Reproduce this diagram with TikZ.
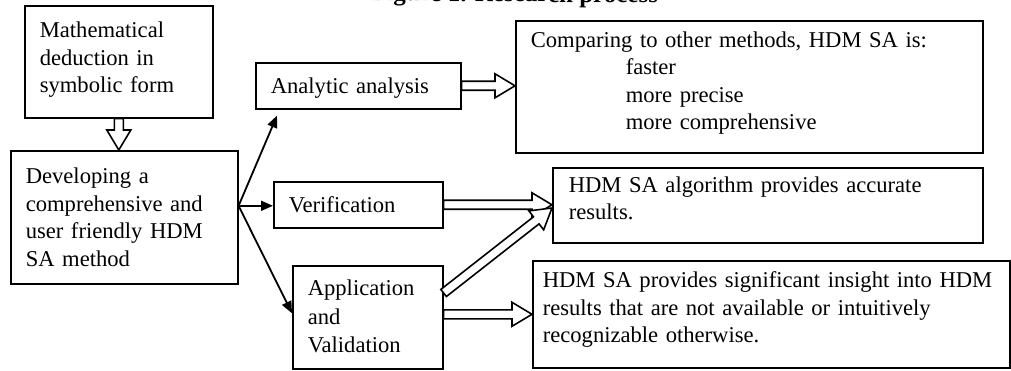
\documentclass[tikz,border=0pt]{standalone}
\usepackage{fontspec}
\setmainfont{Liberation Serif}
\usetikzlibrary{arrows.meta,calc}

\tikzset{
  box/.style={draw, line width=1.6pt, anchor=north west, align=left,
    inner ysep=0pt, inner xsep=15pt, text height=16pt,
    font=\fontsize{22.6}{27.5}\selectfont},
  link/.style={line width=1.8pt, -{Triangle[length=12pt,width=10pt]}},
  hollow/.style={draw, line width=1.6pt, fill=white, line join=miter},
}

% outlined block arrow from #1 to #2 (shaft, open head)
\newcommand\hollowarrow[2]{%
  \coordinate (ha) at #1;
  \coordinate (hb) at #2;
  \coordinate (hh) at ($(hb)!20pt!(ha)$);
  \draw[hollow] ($(ha)!4.5pt!90:(hb)$) -- ($(hh)!4.5pt!90:(hb)$)
    -- ($(hh)!12pt!90:(hb)$) -- (hb) -- ($(hh)!12pt!-90:(hb)$)
    -- ($(hh)!4.5pt!-90:(hb)$) -- ($(ha)!4.5pt!-90:(hb)$) -- cycle;%
}

\begin{document}
\begin{tikzpicture}[x=1pt, y=-1pt]
  \useasboundingbox (0,0) rectangle (1011,371);
  \clip (0,0) rectangle (1011,371);

  % heading, cut at the top edge
  \node[anchor=base west, inner sep=0pt, rotate=-0.5,
        font=\bfseries\fontsize{25}{30}\selectfont] (title) at (371,0.5)
        {Figure 1. Research process};

  % boxes
  \node[box, minimum width=188pt, minimum height=112pt, text width=158pt,
        text depth=64pt] (math) at (24,5)
        {Mathematical\\deduction in\\symbolic form};
  \node[box, minimum width=227pt, minimum height=133pt, text width=197pt,
        text depth=83pt] (dev) at (10,150)
        {Developing a\\comprehensive and\\user friendly HDM\\SA method};
  \node[box, minimum width=205pt, minimum height=46pt, text width=175pt,
        text depth=0pt] (ana) at (255,62) {Analytic analysis};
  \node[box, minimum width=467pt, minimum height=132pt, text width=437pt,
        text depth=94.6pt] (cmp) at (515,20)
        {Comparing to other methods, HDM SA is:\\
         \hspace*{95pt}faster\\
         \hspace*{95pt}more precise\\
         \hspace*{95pt}more comprehensive};
  \node[box, minimum width=169pt, minimum height=46pt, text width=139pt,
        text depth=0pt] (ver) at (273,181) {Verification};
  \node[box, minimum width=150pt, minimum height=103pt, text width=120pt,
        text depth=59pt, font=\fontsize{22.6}{28.5}\selectfont] (app) at (292,265)
        {Application\\and\\Validation};
  \node[box, minimum width=430pt, minimum height=75pt, text width=398pt,
        inner xsep=16pt, text depth=41.6pt] (acc) at (552,167)
        {HDM SA algorithm provides accurate\\results.};
  \node[box, minimum width=477pt, minimum height=107pt, text width=457pt,
        inner xsep=10pt, text depth=69.6pt] (ins) at (532,260)
        {HDM SA provides significant insight into HDM\\
         results that are not available or intuitively\\
         recognizable otherwise.};

  % plain arrows fanning out of the method box
  \coordinate (fork) at ([yshift=11.5pt]dev.east);
  \draw[link] (fork) -- ([xshift=22pt,yshift=-6pt]ana.south west);
  \draw[link] (fork) -- (fork -| ver.west);
  \draw[link] (fork) -- ([yshift=4pt]app.west);

  % block arrows
  \hollowarrow{(math.south)}{(math.south |- dev.north)}
  \hollowarrow{(ana.east)}{(ana.east -| cmp.west)}
  \hollowarrow{(ver.east)}{(ver.east -| acc.west)}
  \hollowarrow{([yshift=-28pt]app.north east)}{([yshift=-41pt]acc.north west)}
  \hollowarrow{(ins.west -| app.east)}{(ins.west)}
\end{tikzpicture}
\end{document}
